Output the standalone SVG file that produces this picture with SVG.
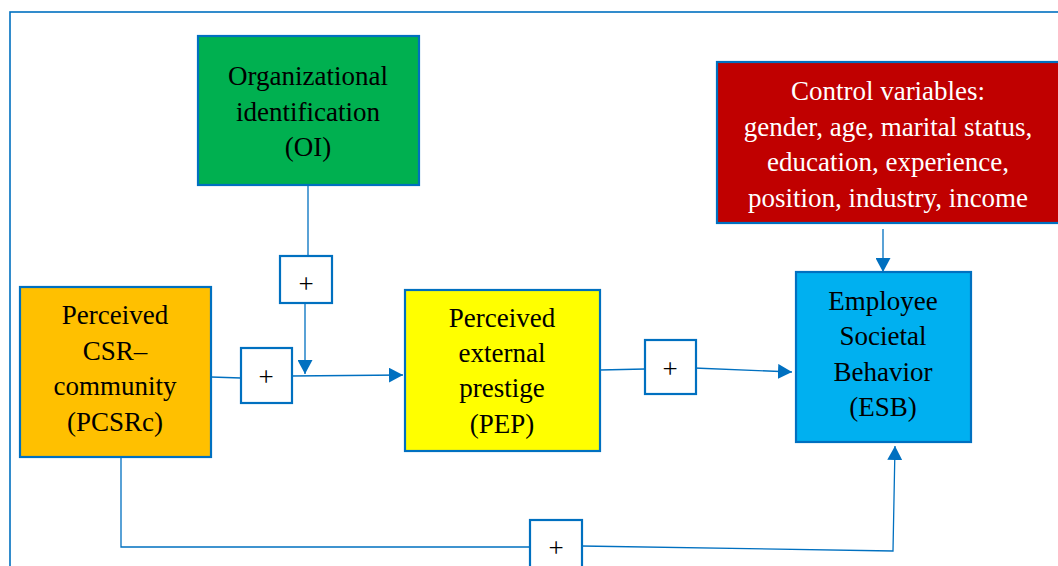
<svg xmlns="http://www.w3.org/2000/svg" width="1058" height="566" viewBox="0 0 1058 566">
<style>
.box{stroke:#0070C0;stroke-width:2.2}
.pbox{fill:#fff;stroke:#0070C0;stroke-width:2.2}
.t{font-family:"Liberation Serif","Times New Roman",serif;font-size:27px;text-anchor:middle;fill:#000}
.tw{fill:#fff}
.plus{font-family:"Liberation Serif","Times New Roman",serif;font-size:27px;text-anchor:middle;fill:#000}
.con{fill:none;stroke:#0070C0;stroke-width:1.3}
</style>
<defs>
<marker id="arr" markerUnits="userSpaceOnUse" markerWidth="15" markerHeight="15" viewBox="0 0 15 15" refX="14" refY="7.5" orient="auto">
<path d="M0,0 L14,7.5 L0,15 Z" fill="#0070C0"/>
</marker>
</defs>
<rect x="10" y="12" width="1060" height="570" fill="none" stroke="#0070C0" stroke-width="1.6"/>
<g id="connectors">
<path class="con" d="M308,185 L308,256"/>
<path class="con" d="M305,303 L305,374" marker-end="url(#arr)"/>
<path class="con" d="M211,377 L241,378"/>
<path class="con" d="M291,376 L403,375" marker-end="url(#arr)"/>
<path class="con" d="M600,370 L645,369"/>
<path class="con" d="M694,368 L792,372" marker-end="url(#arr)"/>
<path class="con" d="M883,229 L883,272" marker-end="url(#arr)"/>
<path class="con" d="M121,458 L121,547 L530,547"/>
<path class="con" d="M581,546 L893,551 L895,446" marker-end="url(#arr)"/>
</g>
<g id="oi">
<rect class="box" x="198" y="36" width="221" height="149" fill="#00B050"/>
<text class="t" x="308" y="85">Organizational</text>
<text class="t" x="308" y="121">identification</text>
<text class="t" x="308" y="156">(OI)</text>
</g>
<g id="control">
<rect class="box" x="717" y="62" width="345" height="161" fill="#C00000"/>
<text class="t tw" x="888" y="100">Control variables:</text>
<text class="t tw" x="888" y="136">gender, age, marital status,</text>
<text class="t tw" x="888" y="171">education, experience,</text>
<text class="t tw" x="888" y="207">position, industry, income</text>
</g>
<g id="pcsrc">
<rect class="box" x="20" y="287" width="191" height="170" fill="#FFC000"/>
<text class="t" x="115" y="324">Perceived</text>
<text class="t" x="115" y="360">CSR–</text>
<text class="t" x="115" y="395">community</text>
<text class="t" x="115" y="431">(PCSRc)</text>
</g>
<g id="pep">
<rect class="box" x="405" y="290" width="195" height="161" fill="#FFFF00"/>
<text class="t" x="502" y="327">Perceived</text>
<text class="t" x="502" y="362">external</text>
<text class="t" x="502" y="397">prestige</text>
<text class="t" x="502" y="433">(PEP)</text>
</g>
<g id="esb">
<rect class="box" x="796" y="272" width="175" height="170" fill="#00B0F0"/>
<text class="t" x="883" y="310">Employee</text>
<text class="t" x="883" y="345">Societal</text>
<text class="t" x="883" y="381">Behavior</text>
<text class="t" x="883" y="416">(ESB)</text>
</g>
<g id="plus1">
<rect class="pbox" x="280" y="256" width="52" height="47"/>
<text class="plus" x="306" y="293">+</text>
</g>
<g id="plus2">
<rect class="pbox" x="241" y="348" width="51" height="55"/>
<text class="plus" x="266" y="386">+</text>
</g>
<g id="plus3">
<rect class="pbox" x="645" y="340" width="51" height="54"/>
<text class="plus" x="670" y="378">+</text>
</g>
<g id="plus4">
<rect class="pbox" x="530" y="520" width="52" height="60"/>
<text class="plus" x="556" y="557">+</text>
</g>
</svg>
